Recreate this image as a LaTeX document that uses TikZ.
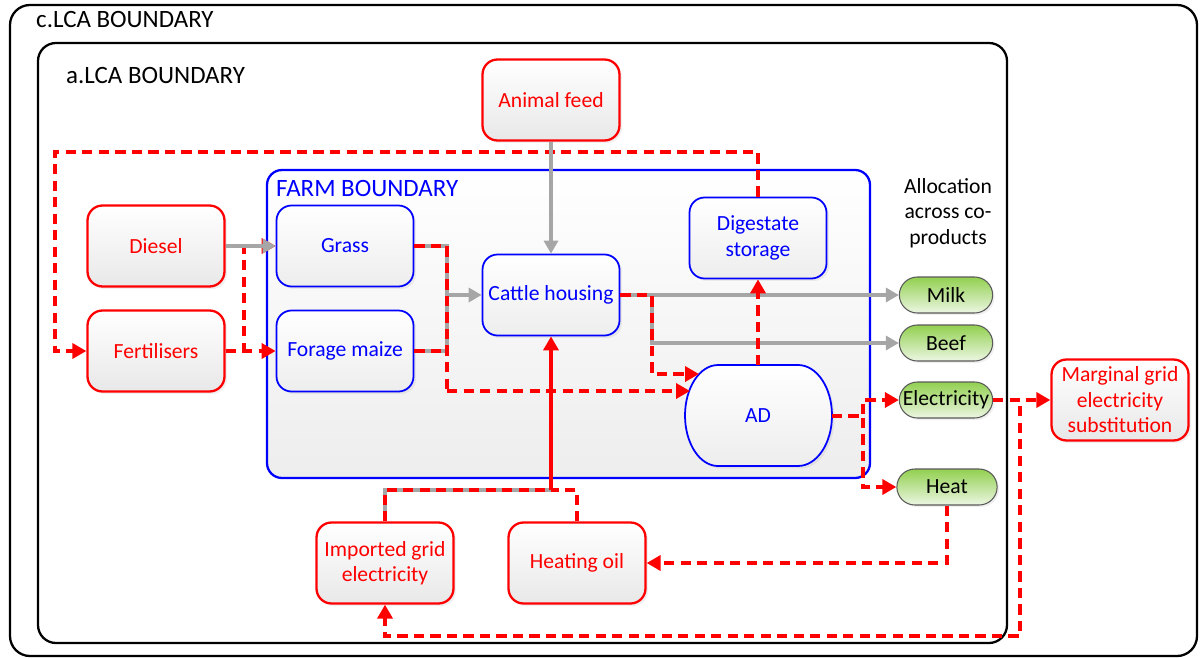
\documentclass[tikz,border=0pt]{standalone}
\usepackage{fontspec}
\setmainfont{Carlito}
\usetikzlibrary{positioning,calc,arrows.meta,shapes.misc,shadows}

\definecolor{prodtop}{RGB}{146,208,80}
\definecolor{prodbot}{RGB}{236,246,226}
\definecolor{linegray}{RGB}{166,166,166}

\begin{document}
\begin{tikzpicture}[
    x=0.02cm, y=-0.02cm,
    font=\fontsize{12.3}{14.5}\selectfont,
    inbox/.style={draw=red, line width=1.3pt, rectangle, rounded corners=0.3cm, minimum width=2.74cm, minimum height=1.62cm, align=center, text=red, top color=white, bottom color=black!9, drop shadow={opacity=0.12, shadow xshift=0.05cm, shadow yshift=-0.05cm}},
    procbox/.style={draw=blue, line width=1pt, rectangle, rounded corners=0.3cm, minimum width=2.74cm, minimum height=1.62cm, align=center, text=blue, top color=white, bottom color=black!7, drop shadow={opacity=0.12, shadow xshift=0.05cm, shadow yshift=-0.05cm}},
    product/.style={draw=black!65, line width=0.6pt, rounded rectangle, minimum height=0.72cm, minimum width=2.1cm, top color=prodtop, bottom color=prodbot, drop shadow={opacity=0.12, shadow xshift=0.04cm, shadow yshift=-0.04cm}},
    flow/.style={red, line width=2.2pt, dash pattern=on 5.8pt off 3.6pt, -{Triangle[length=0.28cm, width=0.3cm]}},
    feed/.style={linegray, line width=2pt, -{Triangle[length=0.26cm, width=0.28cm]}},
    power/.style={red, line width=2.2pt, -{Triangle[length=0.28cm, width=0.3cm]}},
    boundary/.style={draw, line width=1.3pt},
    tag/.style={anchor=west, font=\fontsize{14.2}{16}\selectfont}
]
\useasboundingbox (0,0) rectangle (1200,659);

% LCA boundaries
\draw[boundary, rounded corners=0.4cm] (10,5) rectangle (1197,656);
\node[tag] (cLCA) at (30,20) {c.LCA BOUNDARY};
\draw[boundary, rounded corners=0.36cm] (38,43) rectangle (1007,643);
\node[tag] (aLCA) at (60,76) {a.LCA BOUNDARY};

% Farm boundary
\draw[draw=blue, line width=1.3pt, rounded corners=0.3cm, top color=white, bottom color=black!7] (267,170) rectangle (870,478);
\node[tag, text=blue] (farm) at (270,188) {FARM BOUNDARY};

% Inputs
\node[inbox] (Feed) at (551,100) {Animal feed};
\node[inbox] (Diesel) at (156,246) {Diesel};
\node[inbox] (Fert) at (156,351) {Fertilisers};
\node[inbox] (Imp) at (385,563) {Imported grid\\electricity};
\node[inbox] (Oil) at (577,563) {Heating oil};
\node[inbox] (Marg) at (1120,400) {Marginal grid\\electricity\\substitution};

% Farm processes
\node[procbox] (Grass) at (345,246) {Grass};
\node[procbox] (Forage) at (345,351) {Forage maize};
\node[procbox] (Cattle) at (551,295) {Cattle housing};
\node[procbox] (Dig) at (758,238) {Digestate\\storage};
\path[draw=blue, line width=1pt, top color=white, bottom color=black!7, drop shadow={opacity=0.12, shadow xshift=0.05cm, shadow yshift=-0.05cm}]
    (718,365) -- (798,365) arc[start angle=90, end angle=-90, x radius=0.68cm, y radius=1.01cm]
    -- (718,466) arc[start angle=270, end angle=90, x radius=0.66cm, y radius=1.01cm] -- cycle;
\node[minimum width=2.94cm, minimum height=2.02cm, text=blue] (AD) at (758,416) {AD};

% Co-products
\node[align=center] (alloc) at (948,213) {Allocation\\across co-\\products};
\node[product] (Milk) at (946,295) {Milk};
\node[product] (Beef) at (946,343) {Beef};
\node[product] (Elec) at (946,400) {Electricity};
\node[product, minimum width=2.24cm] (Heat) at (947,487) {Heat};

% Junctions
\coordinate (cTop) at (55,152);
\coordinate (cFert) at (244,351);
\coordinate (cMix) at (447,295);
\coordinate (cMixLow) at (447,391);
\coordinate (cSplit) at (652,343);
\coordinate (cDown) at (652,374);
\coordinate (adIn1) at (690,391);
\coordinate (adIn2) at (699,374);
\coordinate (cElec) at (863,400);
\coordinate (cHeat) at (863,487);
\coordinate (cLoop) at (1020,636);
\coordinate (cJoin) at (551,490);

% Digestate back to fertilisers
\draw[flow] (Dig.north) |- (cTop) |- (Fert.west);

% Feed into crops
\draw[flow] (Fert.east) -- (cFert) |- (Grass.west);
\draw[feed] (Diesel.east) -- (Grass.west);
\draw[flow] (Fert.east) -- (Forage.west);

% Crops into cattle and AD
\draw[feed] (Grass.east) -| (cMix) -- (Cattle.west);
\draw[feed, -] (Forage.east) -| (cMix);
\draw[flow, -] (Grass.east) -| (cMixLow);
\draw[flow, -] (Forage.east) -- (Forage.east -| cMix);
\draw[flow] (cMixLow) -- (adIn1);
\draw[feed] (Feed.south) -- (Cattle.north);

% Cattle outputs
\draw[feed] (Cattle.east) -- (Milk.west);
\draw[feed] (Cattle.east -| cSplit) |- (Beef.west);
\draw[flow] (Cattle.east) -| (cDown) -- (adIn2);

% AD outputs
\draw[flow] (AD.north) -- (Dig.south);
\draw[flow] (AD.east) -| (cElec) -- (Elec.west);
\draw[flow] (AD.east) -| (cHeat) -- (Heat.west);
\draw[flow] (Elec.east) -- (Marg.west);
\draw[flow] (Elec.east) -| (cLoop) -| (Imp.south);
\draw[flow] (Heat.south) |- (Oil.east);

% Energy into cattle housing
\draw[feed, -] (Imp.north) |- (cJoin);
\draw[flow, -] (Imp.north) |- (cJoin);
\draw[flow, -] (Oil.north) |- (cJoin);
\draw[power] (cJoin) -- (Cattle.south);

\end{tikzpicture}
\end{document}
